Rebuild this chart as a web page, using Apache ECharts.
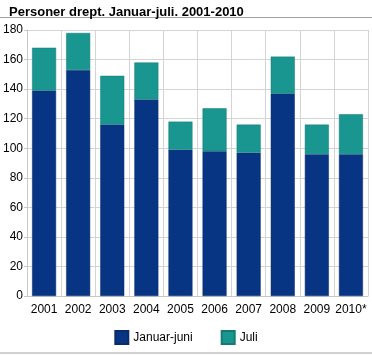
<!DOCTYPE html>
<html><head><meta charset="utf-8">
<script src="https://cdn.jsdelivr.net/npm/echarts@6/dist/echarts.min.js"></script>
<style>html,body{margin:0;padding:0;background:#fff}#c{width:372px;height:355px}</style>
</head><body><div id="c"></div>
<script>
const categories = ['2001','2002','2003','2004','2005','2006','2007','2008','2009','2010*'];
const januarJuni = [139,153,116,133,99,98,97,137,96,96];
const juli = [29,25,33,25,19,29,19,25,20,27];
const yTicks = [0,20,40,60,80,100,120,140,160,180];

const chart = echarts.init(document.getElementById('c'), null, {renderer:'canvas'});
const font = '"Liberation Sans", Arial, sans-serif';
chart.setOption({
  animation:false,
  title:{text:'Personer drept. Januar-juli. 2001-2010', left:4, top:1,
    textStyle:{fontFamily:font, fontSize:13, fontWeight:'bold', color:'#000'}},
  graphic:[
    {type:'line', shape:{x1:0,y1:17.5,x2:372,y2:17.5}, style:{stroke:'#a0a0a0', lineWidth:1}},
    {type:'line', shape:{x1:0,y1:353,x2:372,y2:353}, style:{stroke:'#a0a0a0', lineWidth:1}}
  ],
  legend:{bottom:5, left:'center', itemWidth:13, itemHeight:13, itemGap:28,
    icon:'rect', textStyle:{fontFamily:font, fontSize:12, color:'#000'},
    data:['Januar-juni','Juli']},
  grid:{left:24, right:4, top:30, bottom:59},
  xAxis:{type:'category', data:categories,
    axisLine:{lineStyle:{color:'#c8c8c8', width:1}},
    axisTick:{show:false},
    axisLabel:{interval:0, fontFamily:font, fontSize:12, color:'#000', margin:8},
    splitLine:{show:true, interval:0, lineStyle:{color:'#d4d4d4', width:1}}},
  yAxis:{type:'value', min:0, max:180, interval:20,
    axisLine:{show:true, lineStyle:{color:'#c8c8c8'}},
    axisTick:{show:true, length:3, lineStyle:{color:'#c8c8c8'}},
    axisLabel:{fontFamily:font, fontSize:12, color:'#000', margin:4,
      formatter:v=>yTicks.includes(v)?String(v):''},
    splitLine:{lineStyle:{color:'#d4d4d4', width:1}}},
  series:[
    {name:'Januar-juni', type:'bar', stack:'a', barWidth:24, data:januarJuni,
      itemStyle:{color:'#083583', borderColor:'#0a2c6a', borderWidth:0.5}},
    {name:'Juli', type:'bar', stack:'a', barWidth:24, data:juli,
      itemStyle:{color:'#199690', borderColor:'#157a76', borderWidth:0.5}}
  ]
});
</script></body></html>
